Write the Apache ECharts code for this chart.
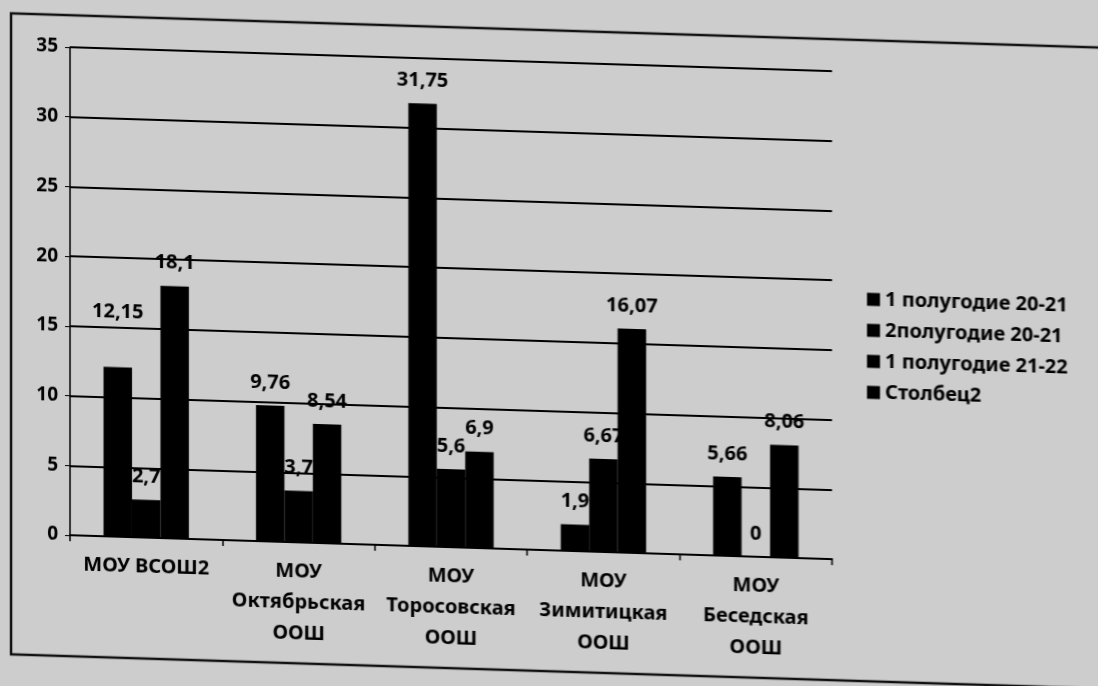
<!DOCTYPE html>
<html><head><meta charset="utf-8">
<script src="https://cdn.jsdelivr.net/npm/echarts@6/dist/echarts.min.js"></script>
<style>
html,body{margin:0;padding:0;background:#cdcdcd;overflow:hidden;}
#c{width:1098px;height:686px;transform:skewY(1.8deg);transform-origin:0 0;}
</style></head><body>
<div id="c"></div>
<script>
const categories = ['МОУ ВСОШ2','МОУ\nОктябрьская\nООШ','МОУ\nТоросовская\nООШ','МОУ\nЗимитицкая\nООШ','МОУ\nБеседская\nООШ'];
const seriesNames = ['1 полугодие 20-21','2полугодие 20-21','1 полугодие 21-22','Столбец2'];
const s1 = [12.15, 9.76, 31.75, 1.9, 5.66];
const s2 = [2.7, 3.7, 5.6, 6.67, 0];
const s3 = [18.1, 8.54, 6.9, 16.07, 8.06];
const s4 = [];
const yTicks = {min:0, max:35, interval:5};

const FONT = 'Noto Sans';
const chart = echarts.init(document.getElementById('c'), null, {renderer:'canvas'});
const lbl = {show:true, position:'top', distance:13, color:'#000', fontFamily:FONT, fontWeight:'bold', fontSize:20,
  formatter: p => String(p.value).replace('.', ',')};
function bar(name, data, raised){
  const d = data.map((v,i)=> raised && raised.includes(i) ? {value:v, label:{distance:45}} : v);
  return {name, type:'bar', data:d, barGap:'0%', barCategoryGap:'44%', itemStyle:{color:'#000'}, label:lbl};
}
chart.setOption({
  backgroundColor:'transparent',
  animation:false,
  graphic:[{type:'rect', shape:{x:11,y:13,width:1200,height:641}, style:{fill:'none', stroke:'#111', lineWidth:2.5}}],
  grid:{left:70, top:45, right:266, bottom:153},
  legend:{orient:'vertical', left:862, top:257, itemGap:11, itemWidth:13, itemHeight:13,
    textStyle:{color:'#000', fontFamily:FONT, fontWeight:'bold', fontSize:20},
    data:seriesNames.map(n=>({name:n, icon:'rect', itemStyle:{color:'#000'}}))},
  xAxis:{type:'category', data:categories,
    axisLine:{lineStyle:{color:'#000', width:2}},
    axisTick:{show:true, length:6, lineStyle:{color:'#000', width:1.5}},
    axisLabel:{interval:0, margin:14, color:'#000', fontFamily:FONT, fontWeight:'bold', fontSize:20, lineHeight:31}},
  yAxis:{type:'value', min:yTicks.min, max:yTicks.max, interval:yTicks.interval,
    axisLine:{show:true, lineStyle:{color:'#000', width:1.5}},
    axisTick:{show:true, length:5, lineStyle:{color:'#000'}},
    splitLine:{lineStyle:{color:'#000', width:2}},
    axisLabel:{color:'#000', fontFamily:FONT, fontWeight:'bold', fontSize:19, margin:12}},
  series:[bar(seriesNames[0], s1, [0]), bar(seriesNames[1], s2), bar(seriesNames[2], s3),
    {name:seriesNames[3], type:'line', data:s4, itemStyle:{color:'#000'}, lineStyle:{color:'#000'}}]
});
</script></body></html>
